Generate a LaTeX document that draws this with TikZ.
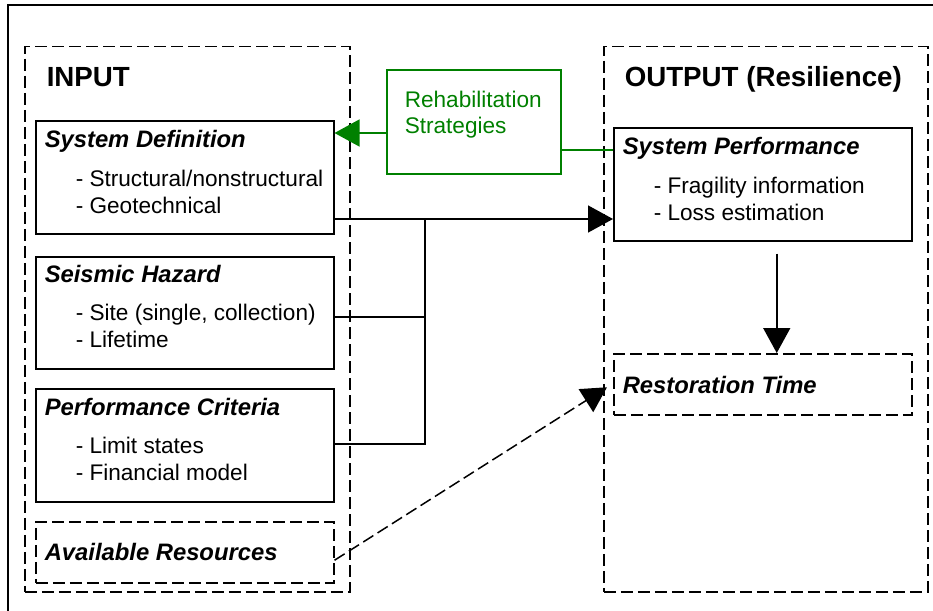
\documentclass[tikz,border=0pt]{standalone}
\usepackage{fontspec}
\setmainfont{Liberation Sans}
\usetikzlibrary{arrows.meta, positioning, calc}
\definecolor{cgreen}{HTML}{008000}
\newcommand{\hd}[1]{{\fontsize{23.8}{27}\selectfont\bfseries\itshape #1}}
\newcommand{\itm}{\hspace*{31pt}- }
\tikzset{
  every picture/.style={line width=1.5pt},
  dashedline/.style={dash pattern=on 12pt off 5pt},
  box/.style={draw, anchor=north west, inner sep=0pt, minimum width=298pt, minimum height=113pt},
  group/.style={draw, dashedline, anchor=north west, inner sep=0pt, minimum height=545pt},
  txt/.style={font=\fontsize{22.6}{27}\selectfont, align=left, anchor=north west, inner sep=0pt},
  title/.style={font=\fontsize{27.7}{32}\selectfont\bfseries, anchor=base west, inner sep=0pt},
  arrow/.style={-{Triangle[length=25pt, width=27pt]}},
}

\begin{document}
\begin{tikzpicture}[x=1pt, y=-1pt]
  \useasboundingbox (0,0) rectangle (933,610);
  \draw[line width=2.2pt] (8,615) -- (8,5) -- (940,5);
  % input side
  \node[group, minimum width=325pt] (inp) at (24,46) {};
  \node[title] (inpt) at (46,86) {INPUT};
  \node[box] (sd) at (35,120) {};
  \node[txt] (sdt) at (44,128.1) {\strut\hd{System Definition}\\[11.5pt]\itm Structural/nonstructural\\\itm Geotechnical};
  \node[box, minimum height=112pt] (sh) at (35,256) {};
  \node[txt] (sht) at (44,262.8) {\strut\hd{Seismic Hazard}\\[11.5pt]\itm Site (single, collection)\\\itm Lifetime};
  \node[box] (pc) at (35,388) {};
  \node[txt] (pct) at (44,395.4) {\strut\hd{Performance Criteria}\\[11.5pt]\itm Limit states\\\itm Financial model};
  \node[box, dashedline, minimum height=61pt] (ar) at (35,521) {};
  \node[txt] (art) at (44,541.1) {\strut\hd{Available Resources}};
  % output side
  \node[group, minimum width=324pt] (outp) at (603,46) {};
  \node[title] (outpt) at (624,86) {OUTPUT (Resilience)};
  \node[box] (sp) at (613,127) {};
  \node[txt] (spt) at (622,134.4) {\strut\hd{System Performance}\\[12.5pt]\itm Fragility information\\\itm Loss estimation};
  \node[box, dashedline, minimum height=61pt] (rt) at (613,353) {};
  \node[txt] (rtt) at (622,374.1) {\strut\hd{Restoration Time}};
  % rehabilitation
  \node[box, draw=cgreen, minimum width=174pt, minimum height=104pt] (rs) at (386,69) {};
  \node[txt, text=cgreen, font=\fontsize{22.6}{26}\selectfont] (rst) at (404,88.8) {\strut Rehabilitation\\Strategies};
  % connectors
  \coordinate (g1) at (0,133);
  \coordinate (g2) at (0,150);
  \coordinate (bus) at (425,219);
  \draw[arrow, draw=cgreen, fill=cgreen] (rs.west |- g1) -- (sd.east |- g1);
  \draw[cgreen] (rs.east |- g2) -- (sp.west |- g2);
  \draw[arrow] (sd.east |- bus) -- (sp.west |- bus);
  \draw (sh.east |- 0,317) -| (bus);
  \draw (pc.east |- 0,444) -| (bus);
  \draw[arrow] ([xshift=14pt, yshift=-12pt]sp.south) -- ([xshift=14pt]rt.north);
  \draw[arrow, dashedline] ([yshift=-8pt]ar.east) -- ([xshift=-6pt, yshift=-3pt]rt.west);
\end{tikzpicture}
\end{document}
